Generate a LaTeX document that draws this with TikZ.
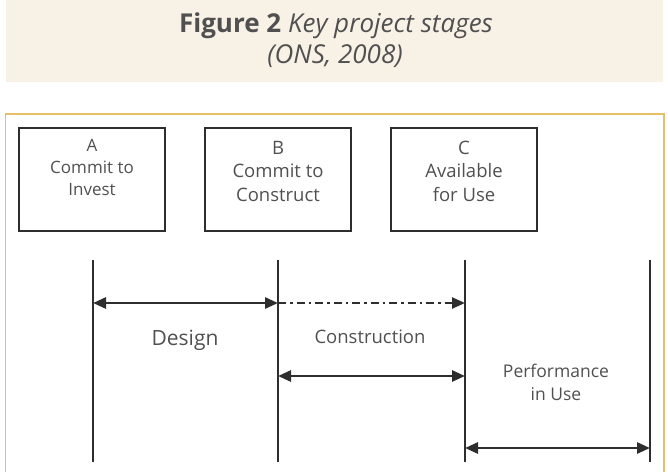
\documentclass[tikz,border=0pt]{standalone}
\usepackage{fontspec}
\setmainfont{Open Sans}
\usetikzlibrary{arrows.meta,positioning}
\definecolor{captionbg}{HTML}{F8F1E6}
\definecolor{framecol}{HTML}{E6C067}
\definecolor{inkgrey}{HTML}{505050}
\definecolor{linegrey}{HTML}{2E2E2E}
\begin{document}
\begin{tikzpicture}[x=1pt,y=-1pt,
  stagebox/.style={draw=linegrey,line width=2.8pt,minimum width=146pt,minimum height=103pt,inner sep=0pt},
  boxtext/.style={text=inkgrey,align=center,inner sep=0pt},
  captext/.style={text=inkgrey,anchor=base,inner sep=0pt,font=\fontsize{26}{31}\selectfont},
  spantext/.style={text=inkgrey,anchor=base,inner sep=0pt,align=center},
  stageline/.style={linegrey,line width=2.8pt},
  span/.style={linegrey,line width=2.8pt,{Triangle[length=13pt,width=11pt]}-{Triangle[length=13pt,width=11pt]}},
  dashspan/.style={linegrey,line width=2.4pt,dash pattern=on 8pt off 4pt on 2.5pt off 4pt,-{Triangle[length=13pt,width=11pt]}}]
\useasboundingbox (0,0) rectangle (668,471);
% caption
\fill[captionbg] (6,0) rectangle (663,82);
\node[captext] (title) at (336,32) {\textbf{Figure 2} \textit{Key project stages}};
\node[captext] (source) at (335,63) {\textit{(ONS, 2008)}};
\draw[framecol,line width=1.5pt] (5.5,114) rectangle (664,500);
% stage boxes
\node[stagebox] (boxA) at (92,179.5) {};
\node[stagebox] (boxB) at (278,179.5) {};
\node[stagebox] (boxC) at (464,179.5) {};
\node[boxtext,font=\fontsize{17}{22}\selectfont,below=13pt of boxA.north] (textA) {A\\Commit to\\Invest};
\node[boxtext,font=\fontsize{18.5}{23.5}\selectfont,below=14pt of boxB.north] (textB) {B\\Commit to\\Construct};
\node[boxtext,font=\fontsize{18.5}{23.5}\selectfont,below=14pt of boxC.north] (textC) {C\\Available\\for Use};
% time lines
\coordinate (lineA) at (93,260);
\coordinate (lineB) at (278,260);
\coordinate (lineC) at (465,260);
\coordinate (lineD) at (650,260);
\foreach \l in {lineA,lineB,lineC,lineD}
  \draw[stageline] (\l) -- (\l |- 0,462);
% spans
\draw[span] (lineA |- 0,303) -- (lineB |- 0,303);
\draw[dashspan] (lineB |- 0,303) -- (lineC |- 0,303);
\draw[span] (lineB |- 0,376) -- (lineC |- 0,376);
\draw[span] (lineC |- 0,448) -- (lineD |- 0,448);
\node[spantext,font=\fontsize{21}{26}\selectfont] (design) at (185,345) {Design};
\node[spantext,font=\fontsize{18.5}{23}\selectfont] (construction) at (370,343) {Construction};
\node[spantext,font=\fontsize{17.5}{23}\selectfont] (performance) at (556,400) {Performance\\in Use};
\end{tikzpicture}
\end{document}
